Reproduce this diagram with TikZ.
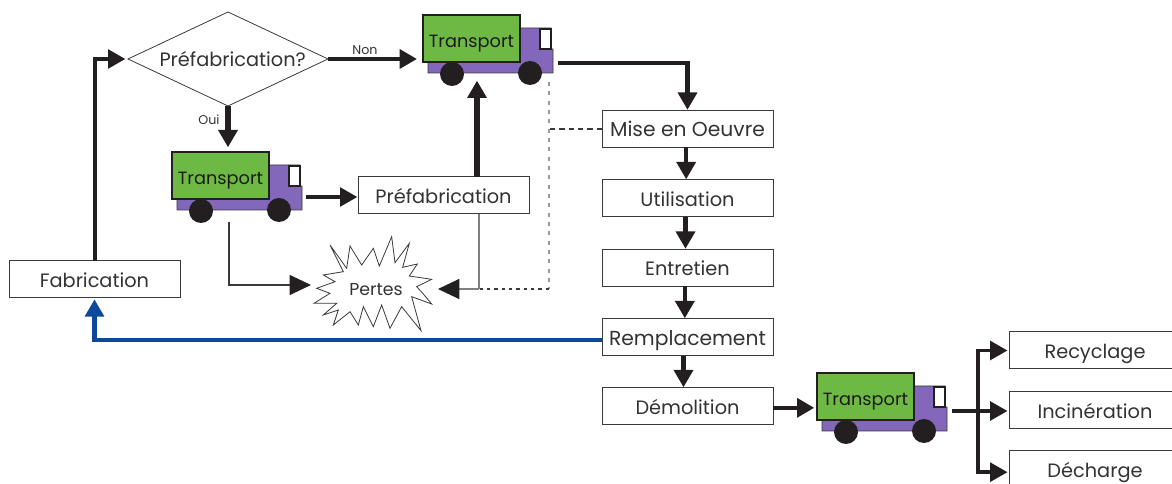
\documentclass[tikz,border=0pt]{standalone}
\usepackage{fontspec}
\setmainfont{Poppins}
\usetikzlibrary{arrows.meta,shapes.geometric}
\definecolor{txt}{HTML}{333333}
\definecolor{edge}{HTML}{3A3A3A}
\definecolor{arr}{HTML}{231F20}
\definecolor{tgreen}{HTML}{6DB944}
\definecolor{tpurple}{HTML}{8367BA}
\definecolor{mblue}{HTML}{0B4A9A}
\tikzset{
  lab/.style={font=\fontsize{14.5}{18}\selectfont,text=txt,text height=13.5pt,text depth=2pt},
  wide/.style={font=\fontsize{15.2}{18}\selectfont},
  box/.style={draw=edge,line width=.75pt,fill=white,minimum width=128.25pt,minimum height=27.75pt,inner sep=0pt,outer sep=0pt,lab},
  tip/.style={-{Triangle[length=13pt,width=14pt]},color=arr,shorten >=.5pt},
  flow/.style={tip,line width=3.2pt},
  flowthin/.style={tip,line width=2.6pt},
  flowthick/.style={tip,line width=3.8pt},
  losstip/.style={-{Triangle[length=16pt,width=15pt,color=arr,fill=arr]}},
  small/.style={font=\fontsize{9.5}{11}\selectfont,text=txt,inner sep=0pt},
  truck/.pic={
    \fill[tpurple,draw=edge,line width=.4pt] (97,13)--(128,13)--(128,34)--(130,34)--(130,58)--(5,58)--(5,47)--cycle;
    \draw[fill=white,draw=arr,line width=1.1pt] (117,14) rectangle (128,34);
    \fill[arr] (29,59) circle[radius=9pt];
    \fill[arr] (107,58) circle[radius=9pt];
    \node[draw=arr,fill=tgreen,line width=.8pt,minimum width=72.75pt,minimum height=35.25pt,inner sep=0pt,outer sep=0pt,anchor=north west,font=\fontsize{13.3}{16}\selectfont,text=arr!85!black,text height=15pt,text depth=1pt] (-box) at (0,0) {Transport};
  }
}
\begin{document}
\begin{tikzpicture}[x=.75pt,y=-.75pt]
\useasboundingbox (0,0) rectangle (1172,484);
\clip (0,0) rectangle (1172,484);
% nodes
\node[box] (fab) at (94.5,279.5) {Fabrication};
\node[draw=edge,line width=.6pt,diamond,aspect=2.13,minimum width=150pt,minimum height=70.5pt,inner sep=0pt,outer sep=0pt,lab] (dia) at (228,59) {\hspace*{7pt}Préfabrication?};
\node[box] (pre) at (443.5,195.5) {Préfabrication};
\node[box,wide] (mise) at (687.5,129) {Mise en Oeuvre};
\node[box] (util) at (687.5,198.5) {Utilisation};
\node[box] (entr) at (687.5,268) {Entretien};
\node[box,wide] (remp) at (687.5,337.5) {Remplacement};
\node[box] (demo) at (687.5,406.5) {Démolition};
\node[box] (recy) at (1095,350.5) {Recyclage};
\node[box] (inci) at (1095,410.5) {Incinération};
\node[box] (dech) at (1095,469.5) {Décharge};
\pic (ta) at (423,15) {truck};
\pic (tb) at (172,152) {truck};
\pic (tc) at (817,373) {truck};
% starburst
\begin{scope}[shift={(160,140)},x=.25pt,y=-.25pt]
\draw[edge,line width=.6pt,fill=white,line join=miter,miter limit=6]
 (510,315)--(560,385)--(570,318)--(605,375)--(640,325)--(658,378)--(695,290)--(705,368)--(748,310)--(728,382)--(772,372)--(748,408)--(815,418)--(770,440)--(790,462)--(815,492)--(755,470)--(783,572)--(725,500)--(690,565)--(665,495)--(640,560)--(610,500)--(595,555)--(570,515)--(520,555)--(535,510)--(490,525)--(530,490)--(462,490)--(510,460)--(470,445)--(525,425)--(490,405)--(550,395)--cycle;
\end{scope}
\node[lab,inner sep=0pt,font=\fontsize{13}{16}\selectfont] (per) at (376,288) {Pertes};
% helper ends
\coordinate (taout) at (558,63);
\coordinate (tbout) at (306,197);
\coordinate (tcout) at (952,411);
\coordinate (prup) at (477,177);
\coordinate (taup) at (477,80);
\coordinate (preb) at (479,214);
\coordinate (lossr) at (479,289);
\coordinate (lossin) at (438,289);
\coordinate (lossl) at (311,285);
\coordinate (tbdown) at (229,222);
\coordinate (dotup) at (549,82);
\coordinate (dotc) at (549,289);
\coordinate (fan) at (978,411);
% connectors
\draw[flowthin,shorten >=2pt] ([xshift=.5pt]fab.north) |- (dia.west);
\draw[flow,shorten >=4.5pt] (dia.east) -- (ta-box.west |- dia.east);
\draw[flowthick] (dia.south) -- (228,148);
\draw[flow] (taout) -| (mise.north);
\draw[flowthin] (tbout) -- (tbout -| pre.west);
\draw[flowthick] (prup) -- (taup);
\draw[gray!80,line width=1.2pt,dash pattern=on 3pt off 4pt] (dotup) -- (dotc);
\draw[edge,line width=.8pt,dash pattern=on 2.5pt off 3pt] (dotc) -- (lossr);
\draw[edge,line width=.8pt,dash pattern=on 4pt off 3pt] (mise.west) -- (mise.west -| dotc);
\draw[gray,line width=.9pt] (preb) -- (lossr);
\draw[losstip,gray,line width=.9pt] (lossr) -- (lossin);
\draw[losstip,edge,line width=.8pt] (tbdown) |- (lossl);
\draw[flow] ([xshift=-1pt]mise.south) -- ([xshift=-1pt]util.north);
\draw[flow] ([xshift=-1.5pt]util.south) -- ([xshift=-1.5pt]entr.north);
\draw[flow] ([xshift=-2pt]entr.south) -- ([xshift=-2pt]remp.north);
\draw[flow] ([xshift=-3pt]remp.south) -- ([xshift=-3pt]demo.north);
\draw[flow,shorten >=2pt] ([yshift=-1pt]demo.east) -- ([yshift=-1pt]tc-box.west |- demo.east);
\draw[flow,color=mblue,shorten >=1pt] ([yshift=-2pt]remp.west) -| (fab.south);
\draw[flowthin,shorten >=1.5pt] (tcout) -- (tcout -| inci.west);
\draw[flowthin,shorten >=1.5pt] (fan) |- (recy.west);
\draw[flowthin,shorten >=1.5pt] (fan) |- ([yshift=-2pt]dech.west);
% labels
\node[small] (non) at (365,50) {Non};
\node[small] (oui) at (209,120) {Oui};
\end{tikzpicture}
\end{document}
